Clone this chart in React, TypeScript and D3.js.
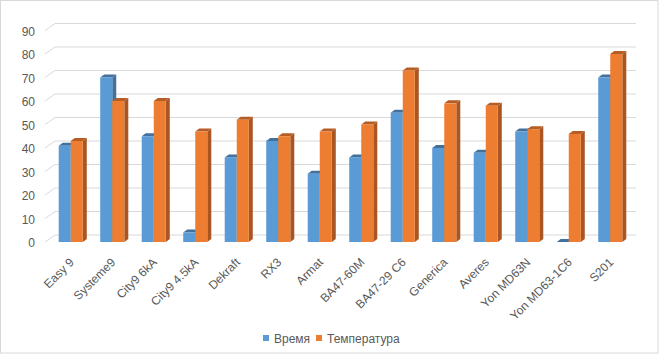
import React from 'react';
import * as d3 from 'd3';

const categories = [
  'Easy 9', 'Systeme9', 'City9 6kA', 'City9 4.5kA', 'Dekraft', 'RX3', 'Armat',
  'BA47-60M', 'BA47-29 C6', 'Generica', 'Averes', 'Yon MD63N', 'Yon MD63-1C6', 'S201',
];
const timeValues = [41, 70, 45, 4, 36, 43, 29, 36, 55, 40, 38, 47, 0, 70];
const tempValues = [43, 60, 60, 47, 52, 45, 47, 50, 73, 59, 58, 48, 46, 80];
const seriesNames = ['Время', 'Температура'];
const yTicks = [0, 10, 20, 30, 40, 50, 60, 70, 80, 90];

const W = 659, H = 354;
const font = '"Liberation Sans", Arial, sans-serif';
const textColor = '#595959';
const grid = '#D9D9D9';

// depth of the fake 3d
const wallDx = 10, wallDy = 7;
const barDx = 4, barDy = 3;

const faces = [
  { front: '#5B9BD5', side: '#41719C', top: '#41719C' },
  { front: '#ED7D31', side: '#A95622', top: '#B55D25' },
];

const App = () => {
  const x0 = d3.scaleBand<string>()
    .domain(categories)
    .range([50, 631])
    .paddingInner(0.42)
    .paddingOuter(0.21);

  const x1 = d3.scaleBand<number>()
    .domain([0, 1])
    .range([0, x0.bandwidth()]);

  const y = d3.scaleLinear().domain([0, 90]).range([242, 30.5]);

  const series = [timeValues, tempValues];

  return (
    <svg width={W} height={H} style={{ position: 'absolute', left: 0, top: 0 }} fontFamily={font}>
      <rect x={0.5} y={0.5} width={W - 1.5} height={H - 1.5} fill="#fff" stroke={grid} />

      {/* back wall grid + floor diagonals */}
      {yTicks.map(t => (
        <g key={t}>
          <line x1={45} x2={45 + wallDx} y1={y(t)} y2={y(t) - wallDy} stroke={grid} />
          <line x1={45 + wallDx} x2={636} y1={y(t) - wallDy} y2={y(t) - wallDy} stroke={grid} />
          <text x={35} y={y(t) + 1} textAnchor="end" dominantBaseline="central"
            fontSize={12} fill={textColor}>{t}</text>
        </g>
      ))}

      {/* bars */}
      {categories.map((c, i) => (
        <g key={c} transform={`translate(${x0(c)},0)`}>
          {series.map((vals, s) => {
            const bx = x1(s)!;
            const bw = x1.bandwidth();
            const yt = y(vals[i]);
            const yb = y(0);
            const f = faces[s];
            return (
              <g key={s}>
                <polygon fill={f.side}
                  points={`${bx + bw},${yt} ${bx + bw + barDx},${yt - barDy} ${bx + bw + barDx},${yb - barDy} ${bx + bw},${yb}`} />
                <polygon fill={f.top}
                  points={`${bx},${yt} ${bx + barDx},${yt - barDy} ${bx + bw + barDx},${yt - barDy} ${bx + bw},${yt}`} />
                <rect x={bx} y={yt} width={bw} height={yb - yt} fill={f.front} />
              </g>
            );
          })}
        </g>
      ))}

      {/* category labels */}
      {categories.map(c => {
        const cx = x0(c)! + x0.bandwidth() / 2 + 4;
        const cy = 263;
        return (
          <text key={c} x={cx} y={cy} transform={`rotate(-45,${cx},${cy})`}
            textAnchor="end" fontSize={12} fill={textColor}>{c}</text>
        );
      })}

      {/* legend */}
      <g fontSize={12} fill={textColor}>
        <rect x={263} y={335} width={6} height={6} fill={faces[0].front} />
        <text x={274} y={342.5}>{seriesNames[0]}</text>
        <rect x={316} y={335} width={6} height={6} fill={faces[1].front} />
        <text x={327} y={342.5}>{seriesNames[1]}</text>
      </g>
    </svg>
  );
};

export default App;
